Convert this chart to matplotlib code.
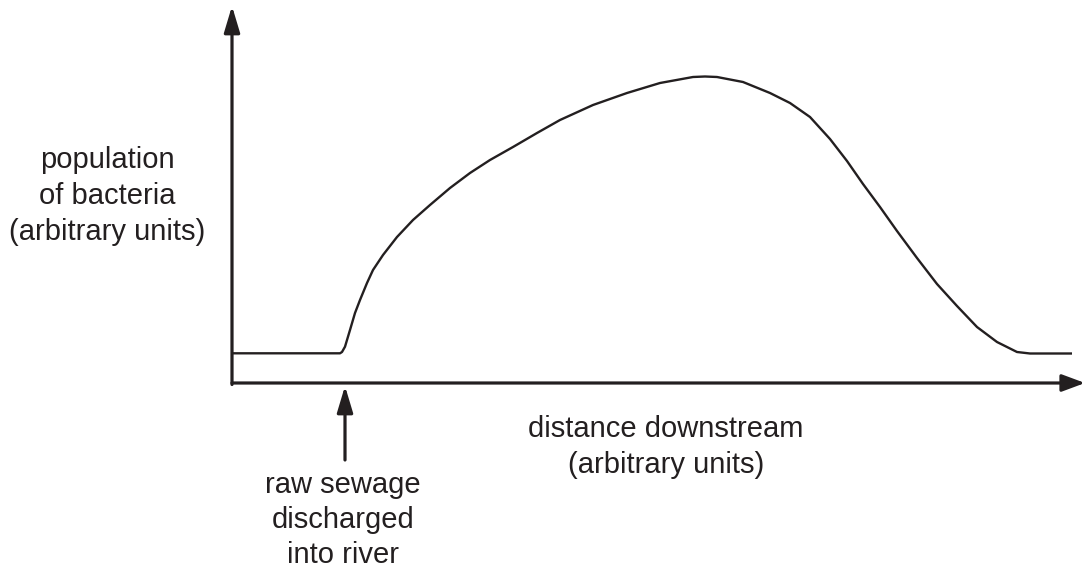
import matplotlib.pyplot as plt

# curve (arbitrary units)
distance = [0, 10.8, 11.0, 11.3, 11.8, 12.3, 12.8, 13.5, 14.1, 15.1, 16.5, 18.1,
            19.8, 21.8, 23.8, 25.8, 28.1, 30.5, 32.8, 36.1, 39.5, 42.8, 46.1,
            47.3, 48.5, 51.1, 53.8, 55.8, 57.8, 59.8, 61.5, 63.1, 64.8, 66.5,
            68.5, 70.5, 72.5, 74.5, 76.5, 78.5, 79.8, 84.0]
population = [2.97, 2.97, 3.1, 3.63, 5.3, 7.0, 8.3, 10.0, 11.3, 12.8, 14.6, 16.3,
              17.8, 19.5, 21.0, 22.3, 23.6, 25.0, 26.3, 27.8, 29.0, 30.0, 30.6,
              30.65, 30.6, 30.1, 29.0, 28.0, 26.6, 24.4, 22.2, 19.9, 17.6, 15.2,
              12.5, 9.9, 7.7, 5.6, 4.1, 3.1, 2.95, 2.95]
discharge_point = 11.3

ylabel = 'population\nof bacteria\n(arbitrary units)'
xlabel = 'distance downstream\n(arbitrary units)'
note = 'raw sewage\ndischarged\ninto river'

ink = '#231f20'
plt.rcParams['font.family'] = ['Liberation Sans', 'DejaVu Sans']

W, H = 1085, 570
x0, y0 = 232, 383  # where the axes meet, in pixels
fig = plt.figure(figsize=(W / 100, H / 100), dpi=100)
ax = fig.add_axes([x0 / W, (H - y0) / H, (W - x0) / W, (y0 - 6) / H])
ax.set_xlim(0, (W - x0) / 10)
ax.set_ylim(0, (y0 - 6) / 10)
ax.axis('off')

# axes drawn as arrows
head = dict(arrowstyle='-|>,head_length=0.8,head_width=0.24', mutation_scale=20,
            lw=2.3, color=ink, shrinkA=0, shrinkB=0)
ax.annotate('', xy=(0, 1), xytext=(0, -0.004), xycoords='axes fraction',
            arrowprops=head, annotation_clip=False)
ax.annotate('', xy=(1, 0), xytext=(0, 0), xycoords='axes fraction',
            arrowprops=dict(head, arrowstyle='-|>,head_length=0.7,head_width=0.26'),
            annotation_clip=False)

ax.plot(distance, population, color=ink, lw=1.7, solid_joinstyle='round',
        solid_capstyle='butt', clip_on=False)

# where the sewage goes in
ax.annotate('', xy=(discharge_point, -0.3), xytext=(discharge_point, -7.7),
            arrowprops=head, annotation_clip=False)

fs = 21
fig.text(107 / W, 1 - 196 / H, ylabel, ha='center', va='center',
         multialignment='center', fontsize=fs, color=ink, linespacing=1.35)
fig.text(666 / W, 1 - 447 / H, xlabel, ha='center', va='center',
         multialignment='center', fontsize=fs, color=ink, linespacing=1.35)
fig.text(343 / W, 1 - 520 / H, note, ha='center', va='center',
         multialignment='center', fontsize=fs, color=ink, linespacing=1.3)

fig.savefig('out.png', dpi=100)
